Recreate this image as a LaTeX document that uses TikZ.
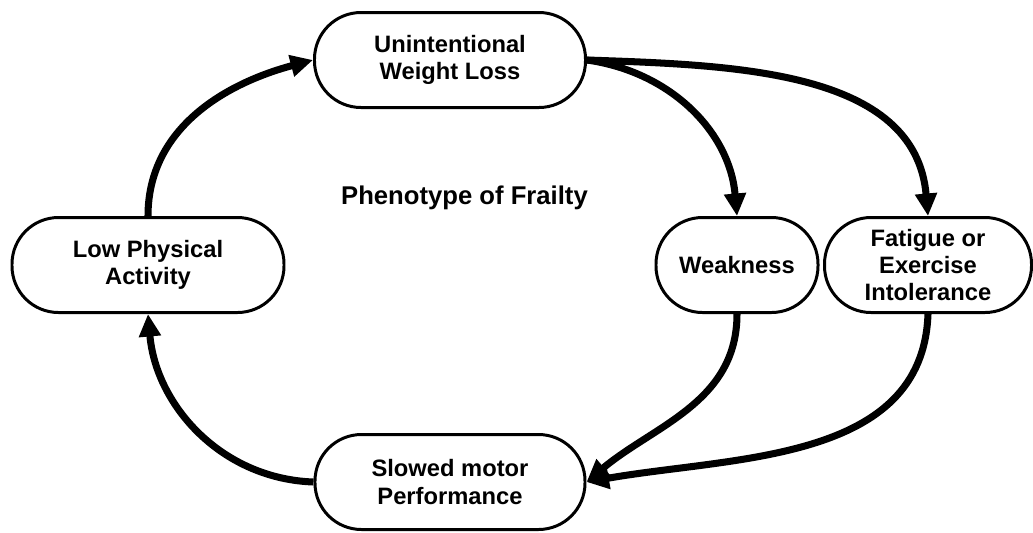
\documentclass[tikz,border=0pt]{standalone}
\usepackage{fontspec}
\setmainfont{Liberation Sans}
\usepackage{tikz}
\usetikzlibrary{arrows.meta,shapes}

\begin{document}
\begin{tikzpicture}[inner sep=0pt, font=\fontsize{13.5}{15.5}\selectfont\bfseries]
    \tikzstyle{etat}=[rectangle, rounded corners=0.93cm, draw=black, line width=1.7pt,
      fill=white, text=black, align=center, minimum height=1.9cm]
    \tikzstyle{fl}=[-{Triangle[length=0.45cm,width=0.42cm]}, line width=4pt]

    \useasboundingbox (0,0) rectangle (20.66,-10.64);

    \node[etat, minimum width=5.42cm] (UWL) at (9,-1.2) {Unintentional\\Weight Loss};
    \node[etat, minimum width=5.4cm] (SMP) [below of=UWL, node distance=8.44cm]
      {Slowed motor\\Performance};
    \node[etat, minimum width=5.44cm] (LPA) at (2.96,-5.3) {Low Physical\\Activity};
    \node[etat, minimum width=3.24cm] (Weak) [right of=LPA, node distance=11.78cm] {Weakness};
    \node[etat, minimum width=4.14cm] (Fat) [right of=Weak, node distance=3.82cm]
      {Fatigue or\\Exercise\\Intolerance};

    \node[font=\fontsize{14.6}{16}\selectfont\bfseries] (PF) at (9.29,-3.96) {Phenotype of Frailty};

    % arrows...
    \draw[fl] (LPA.north) to[out=90, in=195] (UWL.west);
    \draw[fl] (UWL.east) to[out=-8, in=95] (Weak.north);
    \draw[fl] (UWL.east) to[out=-2, in=95] (Fat.north);
    \draw[fl] (Weak.south) to[out=-90, in=40] (SMP.east);
    \draw[fl] (Fat.south) to[out=-92, in=10] (SMP.east);
    \draw[fl] (SMP.west) to[out=178, in=-85] (LPA.south);
\end{tikzpicture}
\end{document}
